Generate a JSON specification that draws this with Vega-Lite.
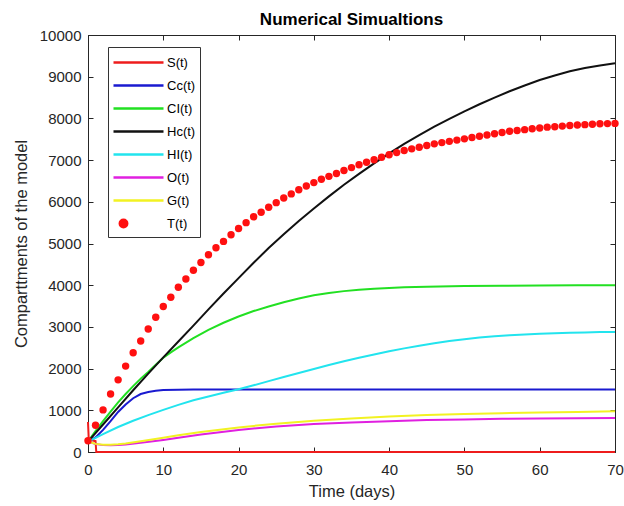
{
  "$schema": "https://vega.github.io/schema/vega-lite/v6.json",
  "autosize": {"type": "none"},
  "padding": {"left": 88, "top": 35, "right": 9, "bottom": 54},
  "width": 527,
  "height": 417,
  "background": "white",
  "title": {"text": "Numerical Simualtions", "fontSize": 17, "fontWeight": "bold", "font": "Liberation Sans", "color": "#000000", "offset": -1, "anchor": "middle"},
  "config": {
    "view": {"stroke": "#262626", "strokeWidth": 1},
    "font": "Liberation Sans",
    "axis": {"grid": false, "domainColor": "#262626", "tickColor": "#262626", "labelColor": "#262626", "titleColor": "#262626", "labelFont": "Liberation Sans", "titleFont": "Liberation Sans", "labelFontSize": 15, "titleFontSize": 16.5, "titleFontWeight": "normal", "tickSize": -5, "labelFlush": false, "format": "d"}
  },
  "datasets": {
    "curves": [
      {"t": 0, "v": 720, "s": "S(t)"}, {"t": 0.1, "v": 300, "s": "S(t)"}, {"t": 1, "v": 260, "s": "S(t)"}, {"t": 1.1, "v": 0, "s": "S(t)"}, {"t": 70, "v": 0, "s": "S(t)"},
      {"t": 0, "v": 250, "s": "Cc(t)"}, {"t": 1, "v": 350, "s": "Cc(t)"}, {"t": 2, "v": 530, "s": "Cc(t)"}, {"t": 3, "v": 740, "s": "Cc(t)"}, {"t": 4, "v": 960, "s": "Cc(t)"}, {"t": 5, "v": 1140, "s": "Cc(t)"}, {"t": 6, "v": 1290, "s": "Cc(t)"}, {"t": 7, "v": 1390, "s": "Cc(t)"}, {"t": 8, "v": 1440, "s": "Cc(t)"}, {"t": 9, "v": 1470, "s": "Cc(t)"}, {"t": 10, "v": 1485, "s": "Cc(t)"}, {"t": 12, "v": 1495, "s": "Cc(t)"}, {"t": 14, "v": 1500, "s": "Cc(t)"}, {"t": 30, "v": 1500, "s": "Cc(t)"}, {"t": 50, "v": 1500, "s": "Cc(t)"}, {"t": 70, "v": 1500, "s": "Cc(t)"},
      {"t": 0, "v": 250, "s": "CI(t)"}, {"t": 1, "v": 500, "s": "CI(t)"}, {"t": 2, "v": 740, "s": "CI(t)"}, {"t": 3, "v": 970, "s": "CI(t)"}, {"t": 4, "v": 1190, "s": "CI(t)"}, {"t": 5, "v": 1390, "s": "CI(t)"}, {"t": 6, "v": 1580, "s": "CI(t)"}, {"t": 7, "v": 1760, "s": "CI(t)"}, {"t": 8, "v": 1920, "s": "CI(t)"}, {"t": 9, "v": 2090, "s": "CI(t)"}, {"t": 10, "v": 2260, "s": "CI(t)"}, {"t": 11, "v": 2390, "s": "CI(t)"}, {"t": 12, "v": 2510, "s": "CI(t)"}, {"t": 14, "v": 2730, "s": "CI(t)"}, {"t": 16, "v": 2930, "s": "CI(t)"}, {"t": 18, "v": 3100, "s": "CI(t)"}, {"t": 20, "v": 3250, "s": "CI(t)"}, {"t": 22, "v": 3380, "s": "CI(t)"}, {"t": 24, "v": 3490, "s": "CI(t)"}, {"t": 26, "v": 3590, "s": "CI(t)"}, {"t": 28, "v": 3680, "s": "CI(t)"}, {"t": 30, "v": 3760, "s": "CI(t)"}, {"t": 32, "v": 3815, "s": "CI(t)"}, {"t": 34, "v": 3858, "s": "CI(t)"}, {"t": 36, "v": 3890, "s": "CI(t)"}, {"t": 38, "v": 3915, "s": "CI(t)"}, {"t": 40, "v": 3935, "s": "CI(t)"}, {"t": 42, "v": 3950, "s": "CI(t)"}, {"t": 45, "v": 3965, "s": "CI(t)"}, {"t": 50, "v": 3980, "s": "CI(t)"}, {"t": 55, "v": 3988, "s": "CI(t)"}, {"t": 60, "v": 3993, "s": "CI(t)"}, {"t": 65, "v": 3996, "s": "CI(t)"}, {"t": 70, "v": 3998, "s": "CI(t)"},
      {"t": 0, "v": 250, "s": "Hc(t)"}, {"t": 2, "v": 660, "s": "Hc(t)"}, {"t": 4, "v": 1070, "s": "Hc(t)"}, {"t": 6, "v": 1480, "s": "Hc(t)"}, {"t": 8, "v": 1880, "s": "Hc(t)"}, {"t": 10, "v": 2270, "s": "Hc(t)"}, {"t": 12, "v": 2650, "s": "Hc(t)"}, {"t": 14, "v": 3030, "s": "Hc(t)"}, {"t": 16, "v": 3420, "s": "Hc(t)"}, {"t": 18, "v": 3800, "s": "Hc(t)"}, {"t": 20, "v": 4170, "s": "Hc(t)"}, {"t": 22, "v": 4540, "s": "Hc(t)"}, {"t": 24, "v": 4890, "s": "Hc(t)"}, {"t": 26, "v": 5220, "s": "Hc(t)"}, {"t": 28, "v": 5540, "s": "Hc(t)"}, {"t": 30, "v": 5840, "s": "Hc(t)"}, {"t": 32, "v": 6130, "s": "Hc(t)"}, {"t": 34, "v": 6410, "s": "Hc(t)"}, {"t": 36, "v": 6670, "s": "Hc(t)"}, {"t": 38, "v": 6920, "s": "Hc(t)"}, {"t": 40, "v": 7160, "s": "Hc(t)"}, {"t": 42, "v": 7390, "s": "Hc(t)"}, {"t": 44, "v": 7600, "s": "Hc(t)"}, {"t": 46, "v": 7800, "s": "Hc(t)"}, {"t": 48, "v": 7990, "s": "Hc(t)"}, {"t": 50, "v": 8170, "s": "Hc(t)"}, {"t": 52, "v": 8340, "s": "Hc(t)"}, {"t": 54, "v": 8500, "s": "Hc(t)"}, {"t": 56, "v": 8650, "s": "Hc(t)"}, {"t": 58, "v": 8790, "s": "Hc(t)"}, {"t": 60, "v": 8920, "s": "Hc(t)"}, {"t": 62, "v": 9030, "s": "Hc(t)"}, {"t": 64, "v": 9130, "s": "Hc(t)"}, {"t": 66, "v": 9210, "s": "Hc(t)"}, {"t": 68, "v": 9270, "s": "Hc(t)"}, {"t": 70, "v": 9320, "s": "Hc(t)"},
      {"t": 0, "v": 250, "s": "HI(t)"}, {"t": 2, "v": 430, "s": "HI(t)"}, {"t": 4, "v": 600, "s": "HI(t)"}, {"t": 6, "v": 750, "s": "HI(t)"}, {"t": 8, "v": 885, "s": "HI(t)"}, {"t": 10, "v": 1010, "s": "HI(t)"}, {"t": 12, "v": 1130, "s": "HI(t)"}, {"t": 14, "v": 1240, "s": "HI(t)"}, {"t": 16, "v": 1330, "s": "HI(t)"}, {"t": 18, "v": 1420, "s": "HI(t)"}, {"t": 20, "v": 1505, "s": "HI(t)"}, {"t": 22, "v": 1600, "s": "HI(t)"}, {"t": 24, "v": 1700, "s": "HI(t)"}, {"t": 26, "v": 1800, "s": "HI(t)"}, {"t": 28, "v": 1895, "s": "HI(t)"}, {"t": 30, "v": 1990, "s": "HI(t)"}, {"t": 32, "v": 2085, "s": "HI(t)"}, {"t": 34, "v": 2175, "s": "HI(t)"}, {"t": 36, "v": 2260, "s": "HI(t)"}, {"t": 38, "v": 2340, "s": "HI(t)"}, {"t": 40, "v": 2415, "s": "HI(t)"}, {"t": 42, "v": 2485, "s": "HI(t)"}, {"t": 44, "v": 2550, "s": "HI(t)"}, {"t": 46, "v": 2610, "s": "HI(t)"}, {"t": 48, "v": 2660, "s": "HI(t)"}, {"t": 50, "v": 2705, "s": "HI(t)"}, {"t": 52, "v": 2745, "s": "HI(t)"}, {"t": 54, "v": 2775, "s": "HI(t)"}, {"t": 56, "v": 2800, "s": "HI(t)"}, {"t": 58, "v": 2820, "s": "HI(t)"}, {"t": 60, "v": 2836, "s": "HI(t)"}, {"t": 62, "v": 2849, "s": "HI(t)"}, {"t": 64, "v": 2860, "s": "HI(t)"}, {"t": 66, "v": 2868, "s": "HI(t)"}, {"t": 68, "v": 2875, "s": "HI(t)"}, {"t": 70, "v": 2880, "s": "HI(t)"},
      {"t": 0, "v": 250, "s": "O(t)"}, {"t": 1, "v": 190, "s": "O(t)"}, {"t": 2, "v": 165, "s": "O(t)"}, {"t": 3, "v": 160, "s": "O(t)"}, {"t": 4, "v": 165, "s": "O(t)"}, {"t": 5, "v": 180, "s": "O(t)"}, {"t": 7, "v": 220, "s": "O(t)"}, {"t": 10, "v": 290, "s": "O(t)"}, {"t": 12, "v": 340, "s": "O(t)"}, {"t": 15, "v": 420, "s": "O(t)"}, {"t": 20, "v": 530, "s": "O(t)"}, {"t": 25, "v": 610, "s": "O(t)"}, {"t": 30, "v": 670, "s": "O(t)"}, {"t": 35, "v": 710, "s": "O(t)"}, {"t": 40, "v": 740, "s": "O(t)"}, {"t": 45, "v": 765, "s": "O(t)"}, {"t": 50, "v": 780, "s": "O(t)"}, {"t": 55, "v": 795, "s": "O(t)"}, {"t": 60, "v": 805, "s": "O(t)"}, {"t": 65, "v": 812, "s": "O(t)"}, {"t": 70, "v": 818, "s": "O(t)"},
      {"t": 0, "v": 250, "s": "G(t)"}, {"t": 1, "v": 195, "s": "G(t)"}, {"t": 2, "v": 175, "s": "G(t)"}, {"t": 3, "v": 175, "s": "G(t)"}, {"t": 4, "v": 185, "s": "G(t)"}, {"t": 5, "v": 205, "s": "G(t)"}, {"t": 7, "v": 260, "s": "G(t)"}, {"t": 10, "v": 340, "s": "G(t)"}, {"t": 12, "v": 400, "s": "G(t)"}, {"t": 15, "v": 480, "s": "G(t)"}, {"t": 20, "v": 590, "s": "G(t)"}, {"t": 25, "v": 680, "s": "G(t)"}, {"t": 30, "v": 750, "s": "G(t)"}, {"t": 35, "v": 805, "s": "G(t)"}, {"t": 40, "v": 850, "s": "G(t)"}, {"t": 45, "v": 885, "s": "G(t)"}, {"t": 50, "v": 910, "s": "G(t)"}, {"t": 55, "v": 930, "s": "G(t)"}, {"t": 60, "v": 948, "s": "G(t)"}, {"t": 65, "v": 962, "s": "G(t)"}, {"t": 70, "v": 975, "s": "G(t)"}
    ],
    "dots": [
      {"t": 0, "v": 270, "s": "T(t)"}, {"t": 1, "v": 640, "s": "T(t)"}, {"t": 2, "v": 1010, "s": "T(t)"}, {"t": 3, "v": 1390, "s": "T(t)"}, {"t": 4, "v": 1730, "s": "T(t)"}, {"t": 5, "v": 2060, "s": "T(t)"}, {"t": 6, "v": 2380, "s": "T(t)"}, {"t": 7, "v": 2660, "s": "T(t)"}, {"t": 8, "v": 2950, "s": "T(t)"}, {"t": 9, "v": 3230, "s": "T(t)"}, {"t": 10, "v": 3490, "s": "T(t)"}, {"t": 11, "v": 3710, "s": "T(t)"}, {"t": 12, "v": 3950, "s": "T(t)"}, {"t": 13, "v": 4150, "s": "T(t)"}, {"t": 14, "v": 4360, "s": "T(t)"}, {"t": 15, "v": 4545, "s": "T(t)"}, {"t": 16, "v": 4730, "s": "T(t)"}, {"t": 17, "v": 4900, "s": "T(t)"}, {"t": 18, "v": 5050, "s": "T(t)"}, {"t": 19, "v": 5210, "s": "T(t)"}, {"t": 20, "v": 5360, "s": "T(t)"}, {"t": 21, "v": 5500, "s": "T(t)"}, {"t": 22, "v": 5640, "s": "T(t)"}, {"t": 23, "v": 5750, "s": "T(t)"}, {"t": 24, "v": 5870, "s": "T(t)"}, {"t": 25, "v": 5980, "s": "T(t)"}, {"t": 26, "v": 6090, "s": "T(t)"}, {"t": 27, "v": 6190, "s": "T(t)"}, {"t": 28, "v": 6290, "s": "T(t)"}, {"t": 29, "v": 6380, "s": "T(t)"}, {"t": 30, "v": 6460, "s": "T(t)"}, {"t": 31, "v": 6540, "s": "T(t)"}, {"t": 32, "v": 6610, "s": "T(t)"}, {"t": 33, "v": 6680, "s": "T(t)"}, {"t": 34, "v": 6750, "s": "T(t)"}, {"t": 35, "v": 6820, "s": "T(t)"}, {"t": 36, "v": 6890, "s": "T(t)"}, {"t": 37, "v": 6950, "s": "T(t)"}, {"t": 38, "v": 7010, "s": "T(t)"}, {"t": 39, "v": 7070, "s": "T(t)"}, {"t": 40, "v": 7130, "s": "T(t)"}, {"t": 41, "v": 7180, "s": "T(t)"}, {"t": 42, "v": 7230, "s": "T(t)"}, {"t": 43, "v": 7270, "s": "T(t)"}, {"t": 44, "v": 7310, "s": "T(t)"}, {"t": 45, "v": 7350, "s": "T(t)"}, {"t": 46, "v": 7390, "s": "T(t)"}, {"t": 47, "v": 7420, "s": "T(t)"}, {"t": 48, "v": 7450, "s": "T(t)"}, {"t": 49, "v": 7480, "s": "T(t)"}, {"t": 50, "v": 7510, "s": "T(t)"}, {"t": 51, "v": 7540, "s": "T(t)"}, {"t": 52, "v": 7570, "s": "T(t)"}, {"t": 53, "v": 7600, "s": "T(t)"}, {"t": 54, "v": 7630, "s": "T(t)"}, {"t": 55, "v": 7660, "s": "T(t)"}, {"t": 56, "v": 7690, "s": "T(t)"}, {"t": 57, "v": 7710, "s": "T(t)"}, {"t": 58, "v": 7730, "s": "T(t)"}, {"t": 59, "v": 7750, "s": "T(t)"}, {"t": 60, "v": 7770, "s": "T(t)"}, {"t": 61, "v": 7790, "s": "T(t)"}, {"t": 62, "v": 7800, "s": "T(t)"}, {"t": 63, "v": 7815, "s": "T(t)"}, {"t": 64, "v": 7830, "s": "T(t)"}, {"t": 65, "v": 7840, "s": "T(t)"}, {"t": 66, "v": 7850, "s": "T(t)"}, {"t": 67, "v": 7860, "s": "T(t)"}, {"t": 68, "v": 7870, "s": "T(t)"}, {"t": 69, "v": 7875, "s": "T(t)"}, {"t": 70, "v": 7880, "s": "T(t)"}
    ]
  },
  "resolve": {"axis": {"x": "independent", "y": "independent"}},
  "layer": [
    {
      "data": {"name": "curves"},
      "mark": {"type": "line", "strokeWidth": 2, "clip": false},
      "encoding": {
        "x": {"field": "t", "type": "quantitative", "scale": {"domain": [0, 70], "nice": false, "zero": false}, "axis": {"orient": "bottom", "title": "Time (days)", "values": [0, 10, 20, 30, 40, 50, 60, 70], "labelPadding": 15, "titlePadding": 6}},
        "y": {"field": "v", "type": "quantitative", "scale": {"domain": [0, 10000], "nice": false}, "axis": {"orient": "left", "title": "Comparttments of the model", "values": [0, 1000, 2000, 3000, 4000, 5000, 6000, 7000, 8000, 9000, 10000], "labelPadding": 12, "titlePadding": 10}},
        "color": {
          "field": "s", "type": "nominal",
          "scale": {"domain": ["S(t)", "Cc(t)", "CI(t)", "Hc(t)", "HI(t)", "O(t)", "G(t)", "T(t)"], "range": ["#ee1c1c", "#1a1ad0", "#22e022", "#111111", "#22e4ee", "#e020e0", "#f2f222", "#ff1010"]},
          "legend": {
            "title": null, "orient": "none", "legendX": 20, "legendY": 12,
            "symbolSize": 400, "symbolStrokeWidth": 2.5, "labelFontSize": 13, "labelFont": "Liberation Sans", "labelColor": "#000000", "labelOffset": 32,
            "rowPadding": 4, "padding": 4, "strokeColor": "#333333", "fillColor": "white",
            "encode": {"symbols": {"update": {
              "shape": {"signal": "datum.value === 'T(t)' ? 'circle' : 'M-1,0H4'"},
              "size": {"signal": "datum.value === 'T(t)' ? 55 : 400"},
              "fill": {"signal": "datum.value === 'T(t)' ? '#ff1010' : 'transparent'"},
              "stroke": {"signal": "datum.value === 'T(t)' ? '#ff1010' : scale('color', datum.value)"},
              "opacity": {"value": 1}
            }}}
          }
        },
        "order": {"field": "t", "type": "quantitative"}
      }
    },
    {
      "data": {"name": "dots"},
      "mark": {"type": "point", "filled": true, "size": 55, "opacity": 1, "shape": "circle", "clip": false},
      "encoding": {
        "x": {"field": "t", "type": "quantitative", "axis": {"orient": "top", "labels": false, "title": null, "values": [0, 10, 20, 30, 40, 50, 60, 70], "domain": false}},
        "y": {"field": "v", "type": "quantitative", "axis": {"orient": "right", "labels": false, "title": null, "values": [0, 1000, 2000, 3000, 4000, 5000, 6000, 7000, 8000, 9000, 10000], "domain": false}},
        "color": {"field": "s", "type": "nominal"}
      }
    }
  ]
}
